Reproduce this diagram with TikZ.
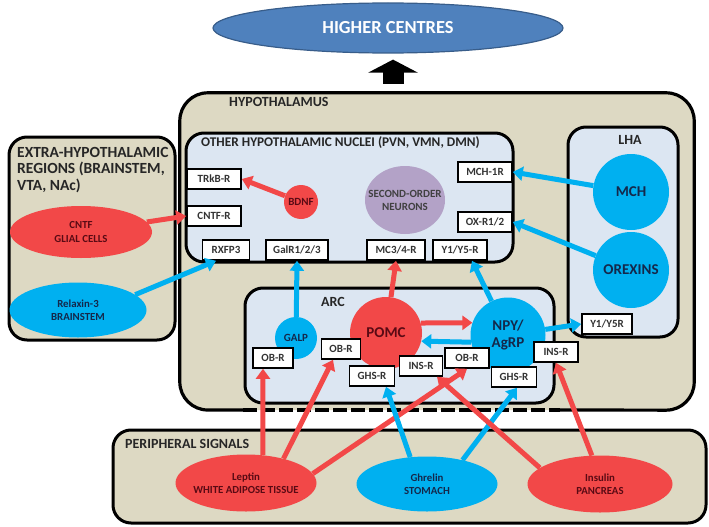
\documentclass[tikz,border=0pt]{standalone}
\usepackage{fontspec}
\setmainfont{Carlito}
\usetikzlibrary{shapes.geometric,arrows.meta}

\definecolor{sigred}{RGB}{242,72,72}
\definecolor{sigblue}{RGB}{0,176,240}
\definecolor{beige}{RGB}{221,217,195}
\definecolor{paleblue}{RGB}{220,230,242}
\definecolor{lilac}{RGB}{179,162,199}
\definecolor{hcblue}{RGB}{79,129,189}
\definecolor{hcedge}{RGB}{56,93,138}
\definecolor{darkred}{RGB}{90,10,20}
\definecolor{darkblue}{RGB}{20,40,75}

\tikzset{
  areabox/.style={draw,line width=3pt,rounded corners=18pt},
  title/.style={font=\bfseries\fontsize{14}{16.5}\selectfont,text=black!85,inner sep=0pt},
  rec/.style={draw,fill=white,line width=1.6pt,minimum height=20pt,minimum width=#1,inner sep=1pt,
    font=\bfseries\fontsize{11}{12}\selectfont,text=black!80},
  redblob/.style={fill=sigred,text=darkred,align=center,inner sep=-4pt,font=\bfseries\fontsize{10.8}{13.5}\selectfont},
  blueblob/.style={fill=sigblue,text=darkblue,align=center,inner sep=-4pt,font=\bfseries\fontsize{10.8}{13.5}\selectfont},
  big/.style={font=\bfseries\fontsize{15}{17}\selectfont},
  redsig/.style={draw=sigred,line width=5pt,-{Triangle[width=14pt,length=10pt]}},
  bluesig/.style={draw=sigblue,line width=5pt,-{Triangle[width=14pt,length=10pt]}},
}

\begin{document}
\begin{tikzpicture}[x=1pt,y=-1pt]
  \useasboundingbox (0,0) rectangle (709,527);

  % outer regions
  \node[areabox,fill=beige,minimum width=166pt,minimum height=203pt] (extra) at (92,238.5) {};
  \node[fill=beige,rounded corners=28pt,minimum width=514pt,minimum height=317pt] (hypo) at (437,251.5) {};
  \coordinate (gapL) at (243,410);
  \coordinate (gapR) at (560,410);
  \draw[line width=3.2pt,rounded corners=28pt] (gapL) -| (hypo.north west) -| (hypo.south east) -- (gapR);
  \draw[line width=3.2pt,dash pattern=on 14pt off 4pt] (gapL) -- (gapR);
  \node[areabox,fill=beige,minimum width=593pt,minimum height=93pt] (periph) at (409.5,476.5) {};

  % inner regions
  \node[areabox,fill=paleblue,minimum width=327pt,minimum height=129pt] (nuclei) at (349.5,197.5) {};
  \node[areabox,fill=paleblue,minimum width=110pt,minimum height=210pt] (lha) at (623,232) {};
  \node[areabox,fill=paleblue,minimum width=309pt,minimum height=115pt] (arc) at (399.5,345.5) {};

  % titles
  \node[title,anchor=north west,align=left,font=\bfseries\fontsize{15.5}{16.5}\selectfont] (extratitle) at (17,147) {EXTRA-HYPOTHALAMIC\\REGIONS (BRAINSTEM,\\VTA, NAc)};
  \node[title,anchor=west] (hypotitle) at (229,102) {HYPOTHALAMUS};
  \node[title,anchor=west,font=\bfseries\fontsize{13.3}{16}\selectfont] (nucleititle) at (201,143) {OTHER HYPOTHALAMIC NUCLEI (PVN, VMN, DMN)};
  \node[title] (lhatitle) at (630,140) {LHA};
  \node[title] (arctitle) at (333,302) {ARC};
  \node[title,anchor=west] (periphtitle) at (125,444) {PERIPHERAL SIGNALS};

  % higher centres
  \node[ellipse,fill=hcblue,draw=hcedge,line width=1.2pt,minimum width=350pt,minimum height=50pt,
    text=white,font=\bfseries\fontsize{18.4}{21}\selectfont] (higher) at (388,28) {HIGHER CENTRES};
  \draw[line width=21pt,-{Triangle[width=49pt,length=13pt]}] ([xshift=5pt,yshift=-30pt]higher.south) -- ([xshift=5pt,yshift=-6pt]higher.south);

  % sources
  \node[redblob,ellipse,minimum width=142pt,minimum height=52pt] (cntf) at (81,232) {CNTF\\GLIAL CELLS};
  \node[blueblob,ellipse,minimum width=137pt,minimum height=55pt] (relaxin) at (78,310) {Relaxin-3\\BRAINSTEM};
  \node[redblob,circle,minimum size=34pt,font=\bfseries\fontsize{11}{13}\selectfont] (bdnf) at (301,202) {BDNF};
  \node[ellipse,fill=lilac,text=black!75,align=center,inner sep=-11pt,minimum width=80pt,minimum height=68pt,
    font=\bfseries\fontsize{11}{13}\selectfont] (second) at (405,200) {SECOND-ORDER\\NEURONS};
  \node[blueblob,circle,big,minimum size=76pt] (mch) at (631,192) {MCH};
  \node[blueblob,circle,big,minimum size=76pt] (orexins) at (631,270) {OREXINS};
  \node[blueblob,circle,minimum size=42pt,font=\bfseries\fontsize{11}{13}\selectfont] (galp) at (296,338) {GALP};
  \node[redblob,circle,big,minimum size=72pt] (pomc) at (386,333) {POMC};
  \node[blueblob,circle,big,minimum size=75pt] (npy) at (508,335) {NPY/\\AgRP};
  \node[redblob,ellipse,minimum width=141pt,minimum height=57pt] (leptin) at (246,483) {Leptin\\WHITE ADIPOSE TISSUE};
  \node[blueblob,ellipse,minimum width=141pt,minimum height=55pt] (ghrelin) at (427,484) {Ghrelin\\STOMACH};
  \node[redblob,ellipse,minimum width=145pt,minimum height=57pt] (insulin) at (600,484) {Insulin\\PANCREAS};

  % receptors
  \node[rec=54pt] (trkbr) at (214,179) {TRkB-R};
  \node[rec=54pt] (cntfr) at (214,216) {CNTF-R};
  \node[rec=47pt] (rxfp) at (226,250) {RXFP3};
  \node[rec=62pt] (galr) at (297,250) {GalR1/2/3};
  \node[rec=58pt] (mcr) at (396,250) {MC3/4-R};
  \node[rec=54pt] (yr) at (460,250) {Y1/Y5-R};
  \node[rec=54pt] (mchr) at (485,172) {MCH-1R};
  \node[rec=54pt] (oxr) at (485,222) {OX-R1/2};
  \node[rec=50pt] (yrb) at (607,324) {Y1/Y5R};
  \node[rec=40pt] (obrA) at (273,358) {OB-R};
  \node[rec=39pt] (obrB) at (341,349) {OB-R};
  \node[rec=45pt] (ghsrA) at (372,376) {GHS-R};
  \node[rec=43pt] (insrA) at (421,366) {INS-R};
  \node[rec=44pt] (obrC) at (467,358) {OB-R};
  \node[rec=45pt] (ghsrB) at (514,377) {GHS-R};
  \node[rec=44pt] (insrB) at (556,352) {INS-R};

  % signals
  \draw[redsig] (cntf) -- (cntfr.west);
  \draw[bluesig] (relaxin.15) -- ([xshift=-10pt]rxfp.south);
  \draw[redsig] (bdnf) -- (trkbr.east);
  \draw[bluesig] (mch) -- (mchr.east);
  \draw[bluesig] (orexins) -- (oxr.east);
  \draw[bluesig] (galp) -- (galr.south);
  \draw[redsig] (pomc) -- (mcr.south);
  \draw[bluesig] (npy) -- ([xshift=12pt]yr.south);
  \draw[bluesig] (npy) -- (yrb.west);
  \draw[redsig] (pomc.16) -- (npy.161);
  \draw[bluesig] (npy.191) -- (pomc.347);
  \draw[redsig] (leptin.59) -- ([xshift=-10pt]obrA.south);
  \draw[redsig] (leptin.33) -- ([xshift=-8pt]obrB.south);
  \draw[redsig] (leptin.8) -- (obrC.south);
  \draw[bluesig] (ghrelin.122) -- ([xshift=14pt]ghsrA.south);
  \draw[bluesig] (ghrelin.34) -- ([xshift=3pt]ghsrB.south);
  \draw[redsig] (insulin.165) -- ([xshift=16pt]insrA.south);
  \draw[redsig] (insulin.106) -- (insrB.south);

\end{tikzpicture}
\end{document}
